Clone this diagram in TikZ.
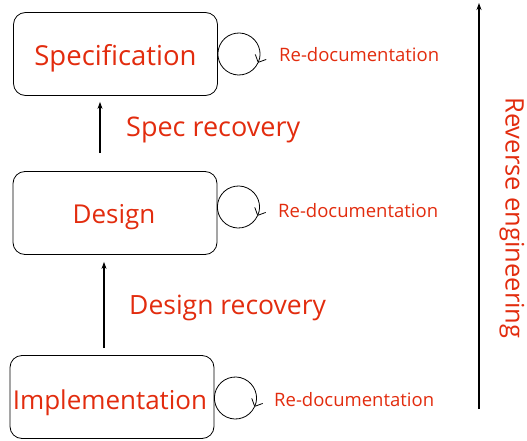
\documentclass[tikz,border=0pt]{standalone}
\usepackage{fontspec}
\setmainfont{Open Sans}
\usetikzlibrary{calc,arrows.meta}
\definecolor{labelred}{RGB}{226,44,14}
\tikzset{
  stage/.style={draw=black, line width=0.8pt, rounded corners=12pt, minimum width=204pt, minimum height=83pt, inner sep=0pt},
  stagetext/.style={text=labelred, inner sep=0pt, font=\fontsize{26}{30}\selectfont},
  redlabel/.style={text=labelred, inner sep=0pt, font=\fontsize{26.5}{30}\selectfont},
  doclabel/.style={text=labelred, inner sep=0pt, anchor=west, font=\fontsize{18.5}{22}\selectfont},
  uparrow/.style={line width=1.2pt, -{Stealth[length=7pt,width=5pt]}},
  loop/.style={line width=0.8pt, -{Straight Barb[length=6pt,width=12pt,line width=0.8pt]}}
}
\begin{document}
\begin{tikzpicture}[x=1pt,y=1pt]
  \useasboundingbox (0,0) rectangle (527,440);

  % the three levels of abstraction
  \node[stage] (spec) at (115.5,386) {};
  \node[stage] (design) at (115,227) {};
  \node[stage] (impl) at (112,43) {};
  \node[stagetext, font=\fontsize{27.5}{30}\selectfont] (spectext) at ($(spec.center)+(0,-4)$) {Specification};
  \node[stagetext] (designtext) at ($(design.center)+(-1,-4)$) {Design};
  \node[stagetext] (impltext) at ($(impl.center)+(-2,-6)$) {Implementation};

  % recovery steps between levels
  \coordinate (sr0) at ($(design.north)+(-15,18)$);
  \coordinate (sr1) at ($(spec.south)+(-15.5,-6)$);
  \draw[uparrow] (sr0) -- (sr1);
  \node[redlabel, anchor=west, font=\fontsize{27}{30}\selectfont] (srlab) at (126,310) {Spec recovery};

  \coordinate (dr0) at ($(impl.north)+(-8,7)$);
  \coordinate (dr1) at ($(design.south)+(-11,-7)$);
  \draw[uparrow] (dr0) -- (dr1);
  \node[redlabel, anchor=west] (drlab) at (129,132) {Design recovery};

  % re-documentation loops at each level
  \foreach \n/\dy in {spec/0,design/6,impl/-1}{
    \draw[loop] ($(\n.east)+(21,\dy)$) ++(-25:21) arc[start angle=-25+360, end angle=-25, radius=21];
  }
  \node[doclabel] (rdspec) at (279,385) {Re-documentation};
  \node[doclabel] (rddesign) at (278,229) {Re-documentation};
  \node[doclabel] (rdimpl) at (274,40) {Re-documentation};

  % overall direction
  \coordinate (re0) at (479,31);
  \coordinate (re1) at (479,437);
  \draw[uparrow] (re0) -- (re1);
  \node[redlabel, rotate=-90, font=\fontsize{25.5}{30}\selectfont] (relab) at (512,222) {Reverse engineering};
\end{tikzpicture}
\end{document}
